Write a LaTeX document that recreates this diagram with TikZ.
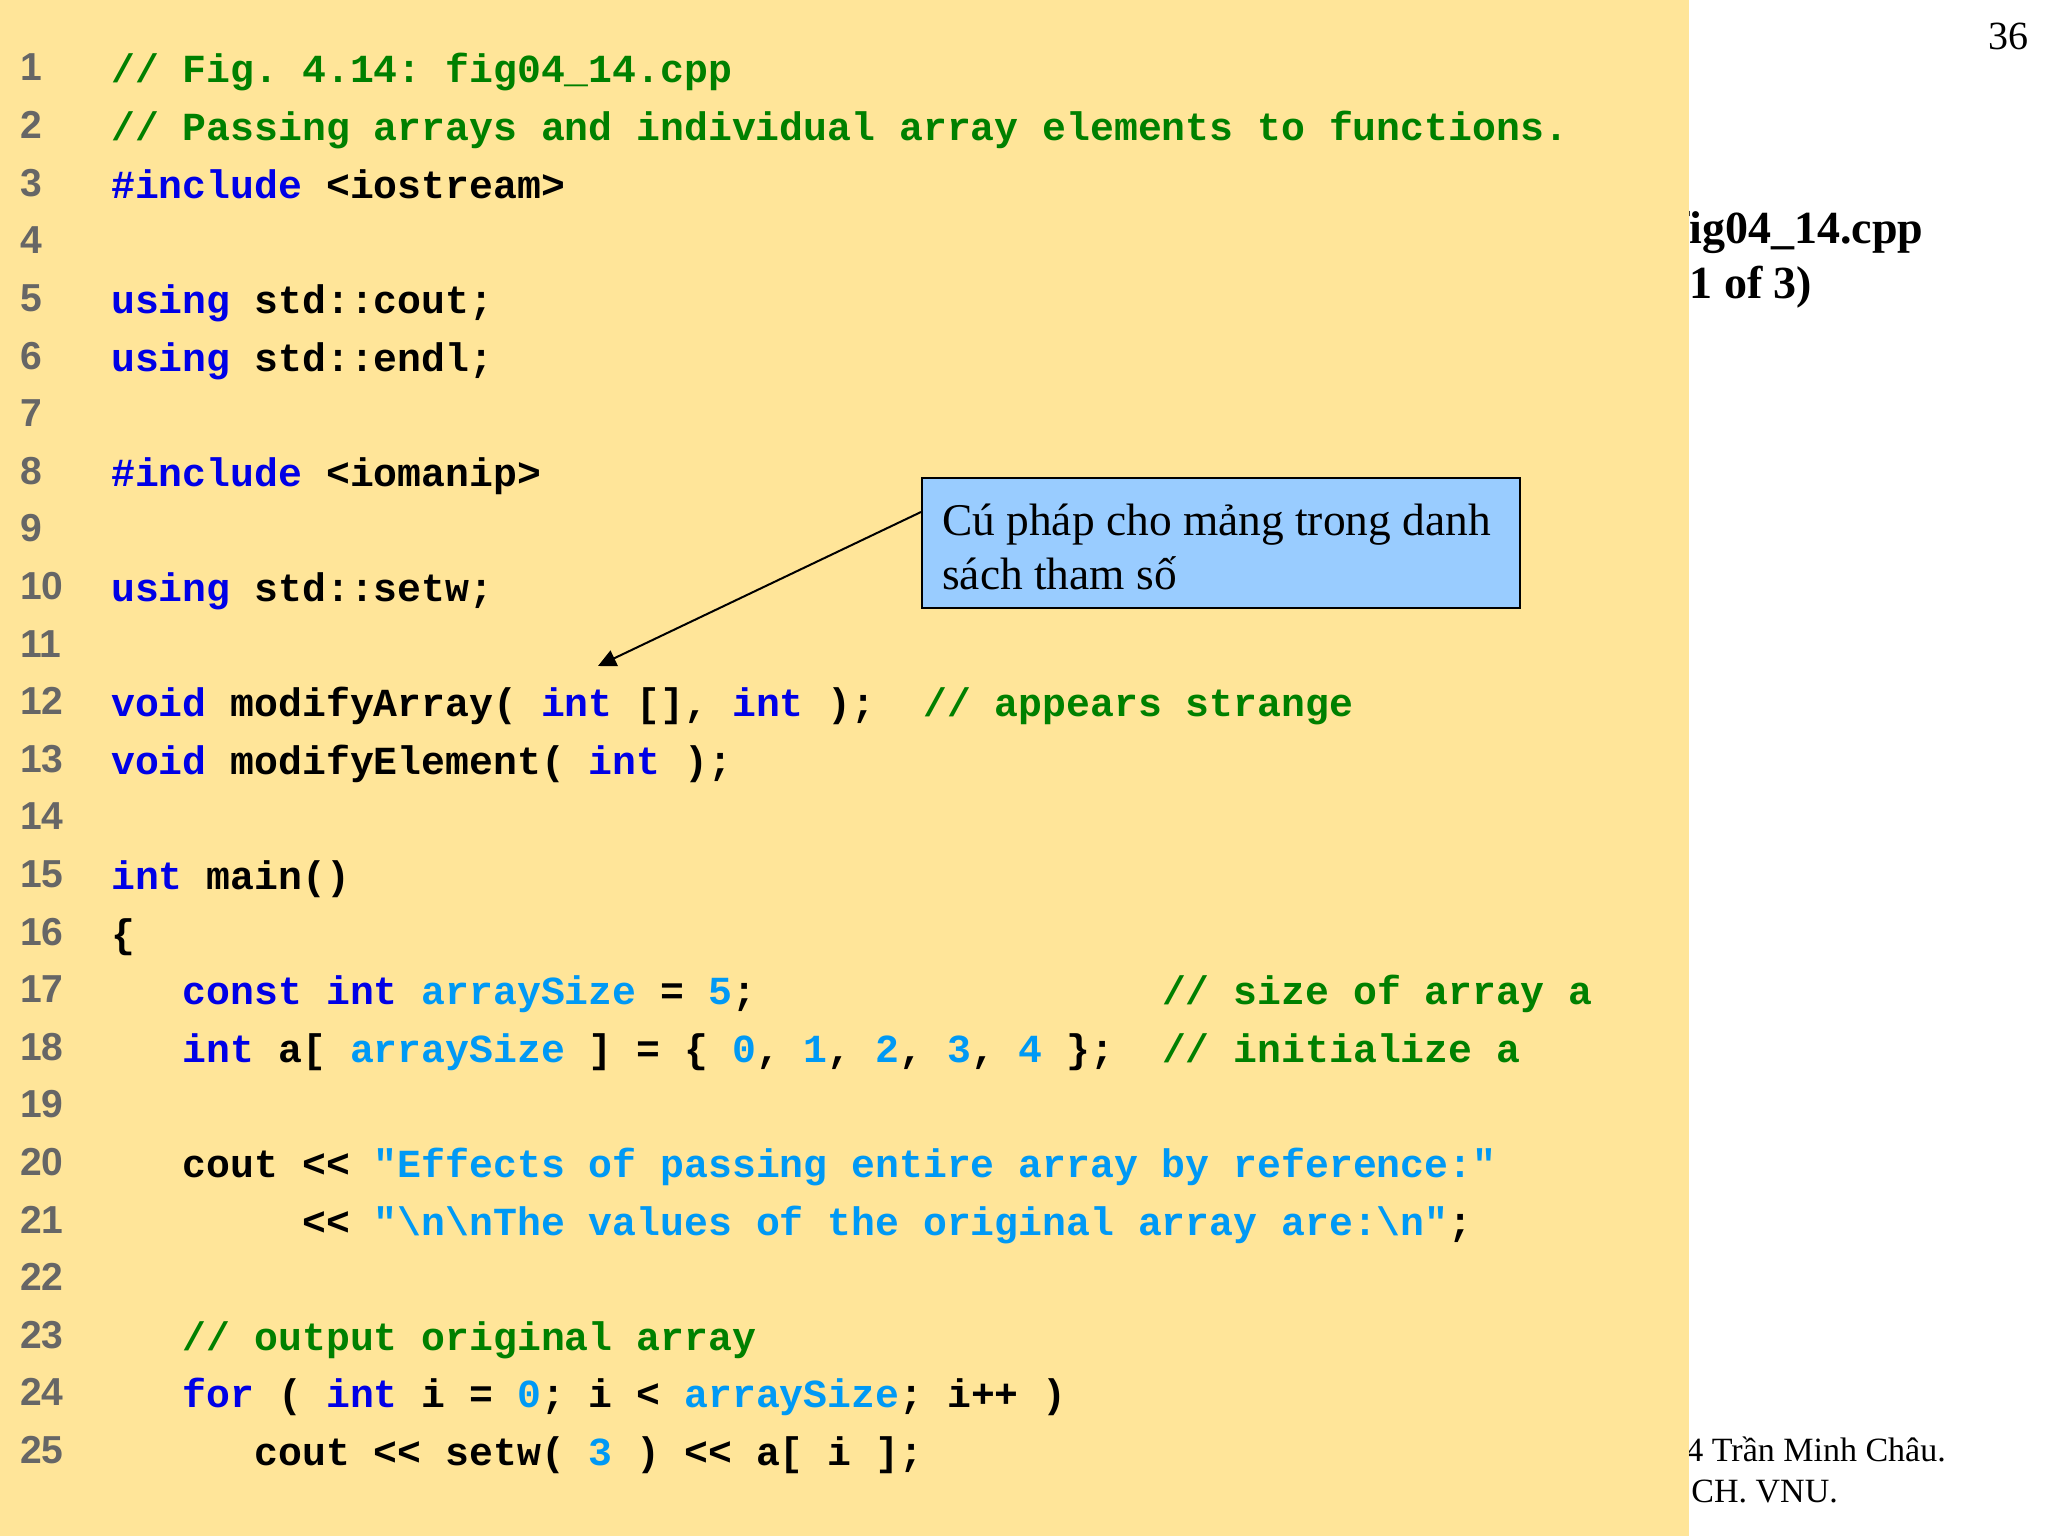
\documentclass[tikz,border=0pt]{standalone}
\usepackage{fontspec}
\setmainfont{Liberation Serif}
\setsansfont{Liberation Sans}
\setmonofont{Liberation Mono}
\usetikzlibrary{arrows.meta}
\definecolor{slidebg}{HTML}{FFE599}
\definecolor{boxblue}{HTML}{99CCFF}
\definecolor{kwblue}{HTML}{0000E6}
\definecolor{litblue}{HTML}{0099F5}
\definecolor{cmgreen}{HTML}{008000}
\definecolor{numgray}{HTML}{666666}
\newcommand{\kw}[1]{\textcolor{kwblue}{#1}}
\newcommand{\lit}[1]{\textcolor{litblue}{#1}}
\newcommand{\cm}[1]{\textcolor{cmgreen}{#1}}
\tikzset{
  codeline/.style={anchor=base west,inner sep=0pt,font=\ttfamily\bfseries\fontsize{39.8}{48}\selectfont},
  numline/.style={anchor=base west,inner sep=0pt,text=numgray,font=\sffamily\bfseries\fontsize{39}{48}\selectfont},
  sidetitle/.style={anchor=base west,inner sep=0pt,font=\bfseries\fontsize{46}{54}\selectfont},
  footline/.style={anchor=base east,inner sep=0pt,font=\fontsize{34}{40}\selectfont},
  pagenum/.style={anchor=base east,inner sep=0pt,font=\fontsize{40}{48}\selectfont},
  callout/.style={anchor=north west,draw=black,line width=2pt,fill=boxblue,minimum width=598pt,minimum height=130pt,inner sep=0pt},
  calloutarrow/.style={draw=black,line width=2pt,-{Triangle[length=18pt,width=17pt]}}
}
\begin{document}
\begin{tikzpicture}[x=1pt,y=-1pt]
\useasboundingbox (0,0) rectangle (2048,1536);
\fill[white] (0,0) rectangle (2048,1536);
% side texts, partly hidden by the code panel
\node[pagenum] (page) at (2029,50) {36};
\node[sidetitle] (t1) at (1674,243) {fig04\_14.cpp};
\node[sidetitle] (t2) at (1674,298) {(1 of 3)};
\node[footline] (f1) at (1946,1461) {4 Trần Minh Châu.};
\node[footline] (f2) at (1838,1502) {CH. VNU.};
% code panel
\fill[slidebg] (0,0) rectangle (1689,1536);
\foreach \n in {1,...,25}
  \node[numline] (n\n) at (20,{81+(\n-1)*57.6}) {\n};
\node[codeline] (l1) at (111,{83+0*57.6}) {\cm{// Fig. 4.14: fig04\_14.cpp}};
\node[codeline] (l2) at (111,{83+1*57.6}) {\cm{// Passing arrays and individual array elements to functions.}};
\node[codeline] (l3) at (111,{83+2*57.6}) {\kw{\#include} <iostream>};
\node[codeline] (l5) at (111,{83+4*57.6}) {\kw{using} std::cout;};
\node[codeline] (l6) at (111,{83+5*57.6}) {\kw{using} std::endl;};
\node[codeline] (l8) at (111,{83+7*57.6}) {\kw{\#include} <iomanip>};
\node[codeline] (l10) at (111,{83+9*57.6}) {\kw{using} std::setw;};
\node[codeline] (l12) at (111,{83+11*57.6}) {\kw{void} modifyArray( \kw{int} [], \kw{int} );~~\cm{// appears strange}};
\node[codeline] (l13) at (111,{83+12*57.6}) {\kw{void} modifyElement( \kw{int} );};
\node[codeline] (l15) at (111,{83+14*57.6}) {\kw{int} main()};
\node[codeline] (l16) at (111,{83+15*57.6}) {\{};
\node[codeline] (l17) at (111,{83+16*57.6}) {~~~\kw{const int} \lit{arraySize} = \lit{5};~~~~~~~~~~~~~~~~~\cm{// size of array a}};
\node[codeline] (l18) at (111,{83+17*57.6}) {~~~\kw{int} a[ \lit{arraySize} ] = \{ \lit{0}, \lit{1}, \lit{2}, \lit{3}, \lit{4} \};~~\cm{// initialize a}};
\node[codeline] (l20) at (111,{83+19*57.6}) {~~~cout << \lit{"Effects of passing entire array by reference:"}};
\node[codeline] (l21) at (111,{83+20*57.6}) {~~~~~~~~<< \lit{"\textbackslash n\textbackslash nThe values of the original array are:\textbackslash n"};};
\node[codeline] (l23) at (111,{83+22*57.6}) {~~~\cm{// output original array}};
\node[codeline] (l24) at (111,{83+23*57.6}) {~~~\kw{for} ( \kw{int} i = \lit{0}; i < \lit{arraySize}; i++ )};
\node[codeline] (l25) at (111,{83+24*57.6}) {~~~~~~cout << setw( \lit{3} ) << a[ i ];};
% callout
\node[callout] (box) at (921,477) {};
\node[anchor=base west,inner sep=0pt,font=\fontsize{45.4}{54}\selectfont,align=left] (boxtext) at (942,589)
  {Cú pháp cho mảng trong danh\\sách tham số};
\coordinate (tip) at (598,666);
\coordinate (tail) at (921,512);
\draw[calloutarrow] (tail) -- (tip);
\end{tikzpicture}
\end{document}
